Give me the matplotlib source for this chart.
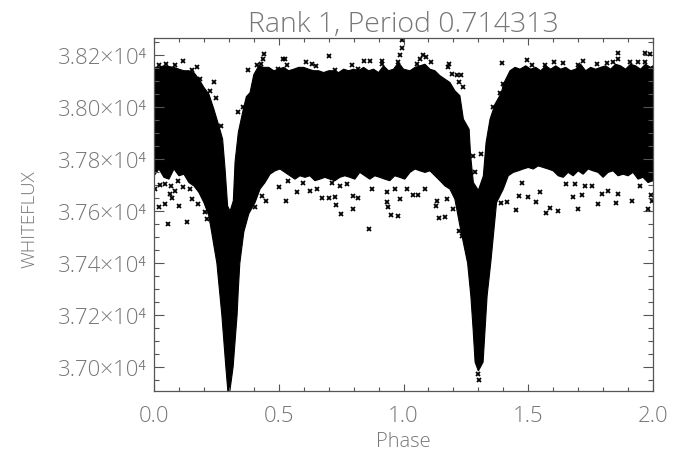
import numpy as np
import matplotlib
matplotlib.use('Agg')
import matplotlib.pyplot as plt
from matplotlib.ticker import MultipleLocator

# dense part of the folded light curve, edges
upper_phase = [0.0, 0.02, 0.04, 0.06, 0.08, 0.1, 0.12, 0.14, 0.16, 0.18, 0.2, 0.22, 0.24, 0.26, 0.275, 0.285, 0.295,
               0.305, 0.318, 0.325, 0.338, 0.358, 0.37, 0.385, 0.4, 0.42, 0.44, 0.46, 0.48, 0.5, 0.52, 0.54, 0.56, 0.58, 0.6,
               0.62, 0.64, 0.66, 0.68, 0.7, 0.72, 0.74, 0.76, 0.78, 0.8, 0.82, 0.84, 0.86, 0.88, 0.9, 0.92, 0.94, 0.96, 0.98, 1.0,
               1.026, 1.046, 1.066, 1.086, 1.106, 1.126, 1.146, 1.166, 1.186, 1.206, 1.226, 1.24, 1.263, 1.269, 1.28, 1.3,
               1.32, 1.331, 1.347, 1.367, 1.393, 1.4, 1.427, 1.447, 1.467, 1.49, 1.51, 1.53, 1.55, 1.57, 1.59, 1.61, 1.63, 1.65,
               1.67, 1.69, 1.71, 1.73, 1.75, 1.77, 1.79, 1.81, 1.83, 1.85, 1.87, 1.89, 1.91, 1.93, 1.95, 1.97, 1.99, 2.0]
upper_flux = [38153, 38153, 38159, 38156, 38153, 38146, 38140, 38140, 38133, 38108, 38076, 38050, 37992, 37928, 37877, 37760, 37620,
              37600, 37640, 37790, 37903, 37992, 38040, 38056, 38125, 38159, 38153, 38153, 38140, 38146, 38153, 38140, 38146, 38153, 38153,
              38146, 38140, 38140, 38133, 38140, 38140, 38133, 38146, 38140, 38146, 38140, 38153, 38140, 38146, 38133, 38159, 38140, 38146, 38172, 38146,
              38140, 38153, 38159, 38165, 38146, 38140, 38121, 38108, 38095, 38063, 38044, 37954, 37915, 37813, 37710, 37680,
              37735, 37864, 37954, 38012, 38056, 38088, 38140, 38153, 38146, 38159, 38146, 38153, 38140, 38159, 38146, 38159, 38146, 38153,
              38140, 38146, 38165, 38140, 38153, 38146, 38153, 38159, 38146, 38165, 38159, 38146, 38165, 38159, 38146, 38165, 38153, 38159]
lower_phase = [0.0, 0.02, 0.04, 0.06, 0.08, 0.1, 0.12, 0.14, 0.16, 0.18, 0.2, 0.22, 0.252, 0.262, 0.272, 0.28, 0.288, 0.296, 0.3,
               0.304, 0.317, 0.325, 0.333, 0.338, 0.344, 0.36, 0.38, 0.405, 0.425, 0.445, 0.465, 0.485, 0.505, 0.525, 0.545, 0.565, 0.585, 0.605, 0.625,
               0.645, 0.665, 0.685, 0.705, 0.725, 0.745, 0.765, 0.785, 0.805, 0.825, 0.845, 0.865, 0.885, 0.905, 0.925, 0.945, 0.965, 0.985, 1.005,
               1.026, 1.046, 1.066, 1.086, 1.106, 1.126, 1.146, 1.166, 1.186, 1.206, 1.226, 1.257, 1.27, 1.279, 1.287, 1.3,
               1.319, 1.327, 1.335, 1.35, 1.373, 1.4, 1.42, 1.44, 1.46, 1.48, 1.5, 1.52, 1.54, 1.56, 1.58, 1.6, 1.62, 1.64, 1.66, 1.68,
               1.7, 1.72, 1.74, 1.76, 1.78, 1.8, 1.82, 1.84, 1.86, 1.88, 1.9, 1.92, 1.94, 1.96, 1.98, 2.0]
lower_flux = [37736, 37762, 37730, 37723, 37762, 37736, 37742, 37710, 37697, 37672, 37633, 37582, 37400, 37300, 37200, 37100, 37000, 36908, 36850,
              36908, 37000, 37100, 37200, 37300, 37400, 37520, 37590, 37633, 37685, 37710, 37742, 37755, 37762, 37749, 37736, 37723, 37736, 37730, 37736,
              37717, 37723, 37730, 37723, 37717, 37730, 37736, 37730, 37723, 37749, 37736, 37723, 37736, 37730, 37723, 37717, 37736, 37730, 37723,
              37749, 37762, 37755, 37749, 37755, 37736, 37717, 37697, 37685, 37646, 37544, 37400, 37273, 37146, 37019, 36985,
              37019, 37146, 37273, 37404, 37633, 37685, 37736, 37749, 37755, 37762, 37768, 37762, 37774, 37768, 37762, 37755, 37736, 37730, 37749, 37736,
              37755, 37742, 37762, 37755, 37749, 37730, 37749, 37755, 37736, 37742, 37736, 37749, 37723, 37730, 37710, 37717]

# points standing clear of the dense part
top_phase = [0.118, 0.021, 0.048, 0.084, 0.174, 0.151, 0.184, 0.24, 0.248, 0.224, 0.269, 0.338, 0.358, 0.378, 0.442, 0.438, 0.411, 0.428,
             0.518, 0.525, 0.608, 0.632, 0.649, 0.703, 0.725, 0.792, 0.843, 0.866, 0.913, 0.913, 0.819, 0.993, 0.986, 0.979, 0.994, 0.498, 0.532,
             1.08, 1.09, 1.066, 1.109, 1.053, 1.184, 1.177, 1.193, 1.213, 1.23, 1.224, 1.24, 1.393, 1.496, 1.514, 1.567, 1.603, 1.641, 1.718, 1.701,
             1.774, 1.814, 1.841, 1.858, 1.861, 1.908, 1.941, 1.968, 1.988, 1.968, 1.387, 1.4, 1.357, 1.454, 1.277, 1.311, 1.287]
top_flux = [38178, 38162, 38165, 38162, 38156, 38144, 38110, 38095, 38037, 38063, 37928, 37980, 38000, 38144, 38204, 38185, 38162, 38165,
            38185, 38185, 38174, 38165, 38159, 38197, 38144, 38162, 38178, 38176, 38176, 38165, 38146, 38226, 38200, 38172, 38258, 38146, 38162,
            38200, 38191, 38187, 38174, 38165, 38165, 38153, 38129, 38123, 38123, 38097, 38079, 38168, 38181, 38162, 38163, 38172, 38168, 38178, 38162,
            38165, 38168, 38172, 38210, 38187, 38172, 38172, 38208, 38204, 38172, 38056, 38088, 37999, 38140, 37813, 37819, 37749]
low_phase = [0.021, 0.044, 0.057, 0.1, 0.134, 0.064, 0.073, 0.084, 0.004, 0.024, 0.044, 0.067, 0.098, 0.118, 0.144, 0.151, 0.178, 0.211, 0.231, 0.204,
             0.405, 0.449, 0.432, 0.529, 0.499, 0.572, 0.625, 0.652, 0.672, 0.703, 0.725, 0.729, 0.75, 0.796, 0.799, 0.816, 0.863, 0.872,
             0.933, 0.939, 0.949, 0.979, 0.986, 0.933, 0.966, 1.013, 0.772, 0.745, 0.712, 0.599, 0.538,
             1.039, 1.059, 1.133, 1.13, 1.144, 1.166, 1.173, 1.2, 1.224, 1.233, 1.24, 1.086,
             1.391, 1.414, 1.451, 1.531, 1.571, 1.587, 1.618, 1.547, 1.5, 1.464, 1.474, 1.65, 1.681, 1.717, 1.698, 1.778, 1.794, 1.852, 1.821, 1.917, 1.861,
             1.979, 1.995, 1.991, 1.948, 1.754, 1.727, 1.687, 1.3, 1.302]
low_flux = [37614, 37627, 37550, 37618, 37560, 37665, 37649, 37676, 37685, 37700, 37704, 37697, 37717, 37691, 37685, 37646, 37627, 37569, 37563, 37597,
            37614, 37640, 37659, 37640, 37691, 37672, 37676, 37685, 37649, 37649, 37655, 37623, 37588, 37608, 37659, 37650, 37531, 37685,
            37637, 37614, 37586, 37580, 37646, 37672, 37685, 37685, 37704, 37697, 37710, 37710, 37717,
            37663, 37663, 37640, 37618, 37573, 37576, 37646, 37608, 37524, 37503, 37569, 37685,
            37633, 37636, 37604, 37637, 37592, 37612, 37599, 37674, 37653, 37659, 37710, 37706, 37653, 37662, 37610, 37627, 37665, 37630, 37678, 37640, 37665,
            37608, 37640, 37663, 37697, 37697, 37697, 37704, 36972, 36952]

y_ticks = [37000, 37200, 37400, 37600, 37800, 38000, 38200]
y_labels = ['3.70×10⁴', '3.72×10⁴', '3.74×10⁴', '3.76×10⁴', '3.78×10⁴', '3.80×10⁴', '3.82×10⁴']
x_ticks = [0.0, 0.5, 1.0, 1.5, 2.0]

text_col = '#777777'
line_col = '#555555'

plt.rcParams['font.family'] = ['Open Sans', 'DejaVu Sans']
plt.rcParams['font.weight'] = 'light'

fig = plt.figure(figsize=(6.77, 4.52), dpi=100)
ax = fig.add_axes([154 / 677, 1 - 392 / 452, 499 / 677, 353 / 452])

band_x = np.concatenate([upper_phase, lower_phase[::-1]])
band_y = np.concatenate([upper_flux, lower_flux[::-1]])
ax.fill(band_x, band_y, color='black', lw=0.8)
ax.plot(top_phase, top_flux, 'x', color='black', ms=3, mew=1.3)
ax.plot(low_phase, low_flux, 'x', color='black', ms=3, mew=1.3)

ax.set_xlim(0, 2)
ax.set_ylim(36908, 38266)
ax.set_xticks(x_ticks)
ax.set_xticklabels(['%.1f' % v for v in x_ticks])
ax.set_yticks(y_ticks)
ax.set_yticklabels(y_labels)
ax.xaxis.set_minor_locator(MultipleLocator(0.1))
ax.yaxis.set_minor_locator(MultipleLocator(50))
ax.tick_params(axis='x', which='major', direction='in', top=True, length=5.2, width=0.8, color=line_col,
               labelsize=16, labelcolor=text_col, pad=10)
ax.tick_params(axis='x', which='minor', direction='in', top=True, length=2.6, width=0.8, color=line_col)
ax.tick_params(axis='y', which='major', direction='in', right=True, length=7.2, width=0.8, color=line_col,
               labelsize=16, labelcolor=text_col, pad=5)
ax.tick_params(axis='y', which='minor', direction='in', right=True, length=3.6, width=0.8, color=line_col)
for s in ax.spines.values():
    s.set_color(line_col)
    s.set_linewidth(0.9)

ax.set_title('Rank 1, Period 0.714313', fontsize=20.5, fontweight='light', color=text_col, pad=5)
ax.set_xlabel('Phase', fontsize=14.5, fontweight='light', color=text_col, labelpad=4)
ax.set_ylabel('WHITEFLUX', fontsize=13.5, fontweight='light', color=text_col)
ax.yaxis.set_label_coords(-0.232, 0.49)

fig.savefig('out.png', dpi=100)
